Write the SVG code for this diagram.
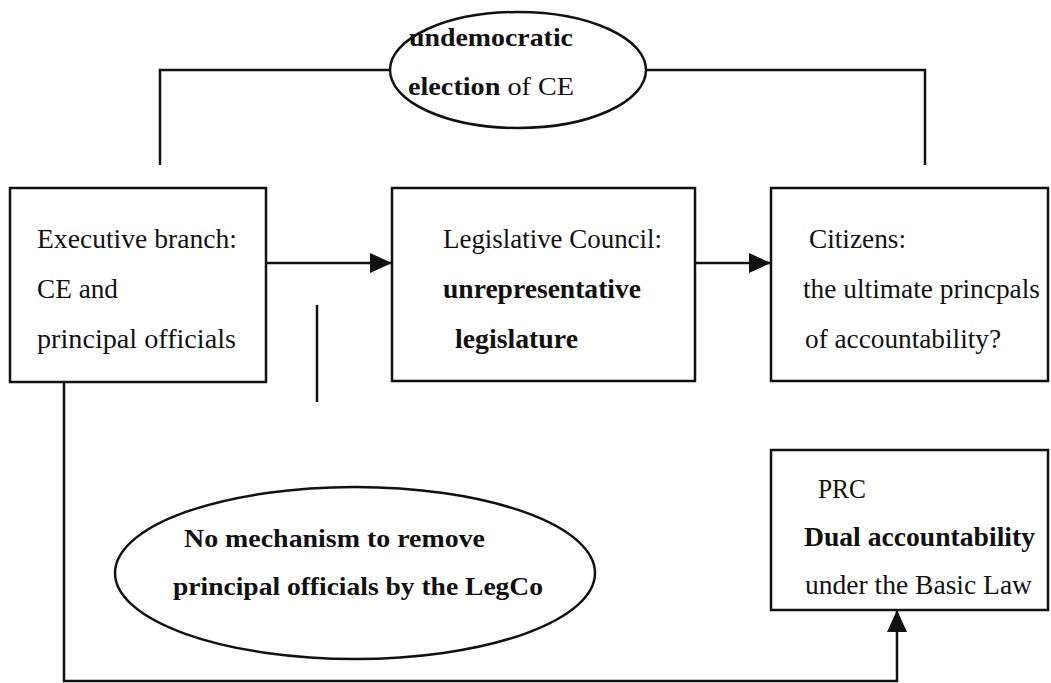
<svg xmlns="http://www.w3.org/2000/svg" width="1051" height="683" viewBox="0 0 1051 683">
<style>
.box{fill:#fff;stroke:#111;stroke-width:2.5}
.ell{fill:#fff;stroke:#111;stroke-width:2.5}
.ln{fill:none;stroke:#111;stroke-width:2.5}
text{font-family:"Liberation Serif","Times New Roman",serif;font-size:27px;fill:#111}
.b{font-weight:bold}
.c{font-size:26px;font-weight:bold}
</style>
<defs>
<marker id="ah" markerWidth="22" markerHeight="20" refX="22" refY="10" orient="auto" markerUnits="userSpaceOnUse">
<path d="M0,0 L22,10 L0,20 Z" fill="#111"/>
</marker>
</defs>
<rect width="1051" height="683" fill="#fff"/>
<g id="connectors">
<polyline class="ln" points="160,165 160,70 391,70"/>
<polyline class="ln" points="646,70 925,70 925,165"/>
<line class="ln" x1="266" y1="263" x2="392" y2="263" marker-end="url(#ah)"/>
<line class="ln" x1="695" y1="263" x2="771" y2="263" marker-end="url(#ah)"/>
<line class="ln" x1="317" y1="305" x2="317" y2="402"/>
<polyline class="ln" points="64,382 64,681 897,681 897,610" marker-end="url(#ah)"/>
</g>
<g id="election">
<ellipse class="ell" cx="518" cy="70" rx="128" ry="58"/>
<text x="409" y="46" class="c" font-size="27" textLength="164" lengthAdjust="spacingAndGlyphs">undemocratic</text>
<text x="408" y="95" textLength="166" lengthAdjust="spacingAndGlyphs"><tspan class="c">election</tspan><tspan font-size="26"> of CE</tspan></text>
</g>
<g id="executive">
<rect class="box" x="10" y="188" width="256" height="194"/>
<text x="37" y="248" textLength="200" lengthAdjust="spacingAndGlyphs">Executive branch:</text>
<text x="37" y="298" textLength="81" lengthAdjust="spacingAndGlyphs">CE and</text>
<text x="37" y="348" textLength="199" lengthAdjust="spacingAndGlyphs">principal officials</text>
</g>
<g id="legco">
<rect class="box" x="392" y="188" width="303" height="193"/>
<text x="443" y="248" textLength="219" lengthAdjust="spacingAndGlyphs">Legislative Council:</text>
<text x="443" y="298" class="b" textLength="198" lengthAdjust="spacingAndGlyphs">unrepresentative</text>
<text x="455" y="348" class="b" textLength="123" lengthAdjust="spacingAndGlyphs">legislature</text>
</g>
<g id="citizens">
<rect class="box" x="771" y="188" width="277" height="193"/>
<text x="809" y="248" textLength="97" lengthAdjust="spacingAndGlyphs">Citizens:</text>
<text x="803" y="298" textLength="237" lengthAdjust="spacingAndGlyphs">the ultimate princpals</text>
<text x="805" y="348" textLength="196" lengthAdjust="spacingAndGlyphs">of accountability?</text>
</g>
<g id="prc">
<rect class="box" x="771" y="450" width="277" height="160"/>
<text x="818" y="498" textLength="48" lengthAdjust="spacingAndGlyphs">PRC</text>
<text x="804" y="546" class="b" textLength="231" lengthAdjust="spacingAndGlyphs">Dual accountability</text>
<text x="805" y="594" textLength="227" lengthAdjust="spacingAndGlyphs">under the Basic Law</text>
</g>
<g id="nomechanism">
<ellipse class="ell" cx="355" cy="573" rx="240" ry="86"/>
<text x="184" y="547" class="c" textLength="301" lengthAdjust="spacingAndGlyphs">No mechanism to remove</text>
<text x="173" y="595" class="c" textLength="370" lengthAdjust="spacingAndGlyphs">principal officials by the LegCo</text>
</g>
</svg>
